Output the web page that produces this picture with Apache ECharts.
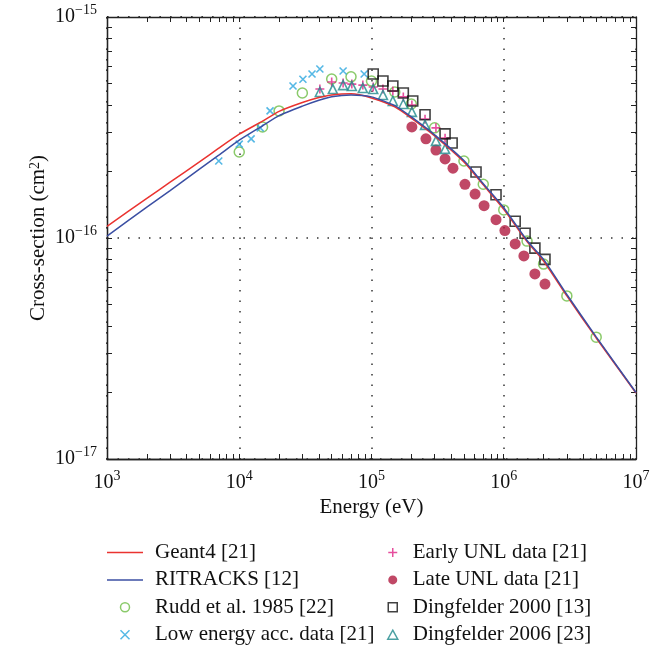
<!DOCTYPE html>
<html>
<head>
<meta charset="utf-8">
<script src="https://cdn.jsdelivr.net/npm/echarts@6/dist/echarts.min.js"></script>
<style>html,body{margin:0;padding:0;background:#fff}#c{width:662px;height:649px}</style>
</head>
<body>
<div id="c"></div>
<script>
// ---- data (energy in eV, cross-section in cm^2) ----
const curveEnergy = [1e3, 2e3, 3e3, 5e3, 7e3, 1e4, 1.5e4, 2e4, 3e4, 4e4, 5e4, 7e4, 1e5, 1.5e5, 2e5, 3e5, 5e5, 7e5, 1e6, 1.5e6, 2e6, 3e6, 5e6, 1e7];
const geant4 = [1.13e-16, 1.51e-16, 1.79e-16, 2.21e-16, 2.55e-16, 2.95e-16, 3.38e-16, 3.74e-16, 4.10e-16, 4.32e-16, 4.44e-16, 4.49e-16, 4.30e-16, 3.92e-16, 3.49e-16, 2.90e-16, 2.21e-16, 1.74e-16, 1.35e-16, 9.65e-17, 7.87e-17, 5.47e-17, 3.53e-17, 1.99e-17];
const ritracks = [1.02e-16, 1.38e-16, 1.64e-16, 2.05e-16, 2.37e-16, 2.77e-16, 3.22e-16, 3.58e-16, 3.95e-16, 4.20e-16, 4.36e-16, 4.44e-16, 4.35e-16, 3.97e-16, 3.53e-16, 2.93e-16, 2.24e-16, 1.76e-16, 1.37e-16, 9.75e-17, 8.0e-17, 5.55e-17, 3.57e-17, 2.0e-17];

const ruddEnergy = [1e4, 1.5e4, 2e4, 3e4, 5e4, 7e4, 1e5, 1.5e5, 2e5, 3e5, 5e5, 7e5, 1e6, 1.5e6, 2e6, 3e6, 5e6];
const ruddSigma = [2.45e-16, 3.18e-16, 3.76e-16, 4.53e-16, 5.24e-16, 5.36e-16, 5.13e-16, 4.58e-16, 4.04e-16, 3.15e-16, 2.23e-16, 1.75e-16, 1.34e-16, 9.68e-17, 7.62e-17, 5.47e-17, 3.56e-17];

const lowEnergy = [7.0e3, 1.0e4, 1.23e4, 1.44e4, 1.71e4, 2.55e4, 3.03e4, 3.55e4, 4.07e4, 6.1e4, 8.8e4];
const lowSigma = [2.23e-16, 2.66e-16, 2.81e-16, 3.15e-16, 3.76e-16, 4.87e-16, 5.23e-16, 5.52e-16, 5.82e-16, 5.70e-16, 5.52e-16];

const earlyEnergy = [4.07e4, 5.0e4, 6.1e4, 7.1e4, 8.6e4, 1.03e5, 1.22e5, 1.45e5, 1.74e5, 2.02e5, 2.54e5, 3.07e5, 3.6e5];
const earlySigma = [4.72e-16, 5.08e-16, 5.03e-16, 4.97e-16, 4.92e-16, 4.82e-16, 4.72e-16, 4.62e-16, 4.35e-16, 4.0e-16, 3.45e-16, 3.15e-16, 2.83e-16];

const lateEnergy = [2.02e5, 2.58e5, 3.07e5, 3.6e5, 4.13e5, 5.09e5, 6.07e5, 7.1e5, 8.74e5, 1.02e6, 1.22e6, 1.42e6, 1.72e6, 2.05e6];
const lateSigma = [3.18e-16, 2.81e-16, 2.50e-16, 2.28e-16, 2.07e-16, 1.75e-16, 1.58e-16, 1.40e-16, 1.21e-16, 1.08e-16, 9.4e-17, 8.3e-17, 6.88e-17, 6.19e-17];

const d2000Energy = [1.03e5, 1.22e5, 1.45e5, 1.74e5, 2.05e5, 2.54e5, 3.6e5, 4.07e5, 6.17e5, 8.74e5, 1.22e6, 1.45e6, 1.72e6, 2.05e6];
const d2000Sigma = [5.52e-16, 5.13e-16, 4.87e-16, 4.53e-16, 4.17e-16, 3.61e-16, 2.96e-16, 2.69e-16, 1.99e-16, 1.57e-16, 1.19e-16, 1.05e-16, 9.0e-17, 8.0e-17];

const d2006Energy = [4.07e4, 5.1e4, 6.1e4, 7.1e4, 8.6e4, 1.03e5, 1.22e5, 1.45e5, 1.74e5, 2.02e5, 2.54e5, 3.07e5, 3.6e5];
const d2006Sigma = [4.58e-16, 4.72e-16, 4.92e-16, 4.87e-16, 4.77e-16, 4.72e-16, 4.44e-16, 4.17e-16, 4.04e-16, 3.72e-16, 3.25e-16, 2.75e-16, 2.53e-16];

const seriesNames = ['Geant4 [21]', 'RITRACKS [12]', 'Rudd et al. 1985 [22]', 'Low energy acc. data [21]',
  'Early UNL data [21]', 'Late UNL data [21]', 'Dingfelder 2000 [13]', 'Dingfelder 2006 [23]'];
const xName = 'Energy (eV)';
const yName = 'Cross-section (cm{sup|2})';
const xRange = [1e3, 1e7];
const yRange = [1e-17, 1e-15];
const minorMult = [2, 3, 4, 5, 6, 7, 8, 9];
const xDecades = [1e3, 1e4, 1e5, 1e6];
const yDecades = [1e-17, 1e-16];

// ---- build ----
const F = 'Liberation Serif';
const pair = (xs, ys) => xs.map((x, i) => [x, ys[i]]);
const minorTicks = (decades) => {
  const out = [];
  decades.forEach(d => { out.push(d); minorMult.forEach(m => out.push(parseFloat((m * d).toPrecision(3)))); });
  return out;
};
const xTicks = minorTicks(xDecades).concat([xRange[1]]);
const yTicks = minorTicks(yDecades).concat([yRange[1]]);

const expLabel = v => {
  const e = Math.round(Math.log10(v));
  return '{b|10}{s|' + (e < 0 ? '\u2212' : '') + Math.abs(e) + '}';
};
const labelRich = {
  b: { fontSize: 20, fontFamily: F, color: '#111', lineHeight: 28, verticalAlign: 'middle' },
  s: { fontSize: 14, fontFamily: F, color: '#111', lineHeight: 14, verticalAlign: 'top' }
};
const frameColor = '#222';
const grid = { left: 107, right: 26, top: 17, bottom: 190, containLabel: false };

function tickAxis(pos, range, ticks) {
  return {
    type: 'log', logBase: 10, min: range[0], max: range[1], position: pos,
    axisLine: { show: true, onZero: false, lineStyle: { color: frameColor, width: 1.3 } },
    axisTick: { show: true, inside: true, length: 5, customValues: ticks, lineStyle: { color: frameColor, width: 1 } },
    axisLabel: { show: false }, splitLine: { show: false }, minorTick: { show: false }
  };
}

const gridLine = { show: true, lineStyle: { type: [1.5, 9], color: '#333', width: 1.5 } };

const colors = ['#ea3330', '#3b4fa3', '#6dbd45', '#2aa6df', '#e02386', '#b01a40', '#111111', '#1f8a8c'];
const legendIcons = [
  'path://M0,0H36V1.5H0Z',
  'path://M0,0H36V1.5H0Z',
  'circle',
  'path://M0,0L10,10M10,0L0,10',
  'path://M5,0L5,10M0,5L10,5',
  'circle',
  'path://M0,0H10V10H0Z',
  'path://M5,0L10,9L0,9Z'
];
const legendData = seriesNames.map((n, i) => ({ name: n, icon: legendIcons[i] }));

const option = {
  animation: false,
  backgroundColor: '#fff',
  grid: grid,
  xAxis: [
    {
      type: 'log', logBase: 10, min: xRange[0], max: xRange[1], position: 'bottom',
      name: xName, nameLocation: 'middle', nameGap: 38, nameMoveOverlap: false,
      nameTextStyle: { fontSize: 21, fontFamily: F, color: '#111' },
      axisLine: { show: true, onZero: false, lineStyle: { color: frameColor, width: 1.3 } },
      axisTick: { show: false },
      axisLabel: { margin: 10, formatter: expLabel, rich: labelRich },
      splitLine: gridLine
    },
    tickAxis('bottom', xRange, xTicks),
    tickAxis('top', xRange, xTicks)
  ],
  yAxis: [
    {
      type: 'log', logBase: 10, min: yRange[0], max: yRange[1], position: 'left',
      name: yName, nameLocation: 'middle', nameGap: 58, nameMoveOverlap: false,
      nameTextStyle: { fontSize: 21, fontFamily: F, color: '#111',
        rich: { sup: { fontSize: 14, fontFamily: F, color: '#111', verticalAlign: 'top', lineHeight: 14 } } },
      axisLine: { show: true, onZero: false, lineStyle: { color: frameColor, width: 1.3 } },
      axisTick: { show: false },
      axisLabel: { margin: 10, formatter: expLabel, rich: labelRich },
      splitLine: gridLine
    },
    tickAxis('left', yRange, yTicks),
    tickAxis('right', yRange, yTicks)
  ],
  legend: [
    {
      data: legendData.slice(0, 4), orient: 'vertical', left: 107, top: 542, padding: 0,
      itemWidth: 36, itemHeight: 9, itemGap: 6.4, selectedMode: false, symbolKeepAspect: true,
      itemStyle: { borderWidth: 1.5 },
      textStyle: { fontSize: 21, fontFamily: F, color: '#111', lineHeight: 21, padding: [0, 0, 0, 7] }
    },
    {
      data: legendData.slice(4), orient: 'vertical', left: 387, top: 542, padding: 0,
      itemWidth: 30, itemHeight: 9, itemGap: 6.4, selectedMode: false, symbolKeepAspect: true,
      itemStyle: { borderWidth: 1.5 },
      textStyle: { fontSize: 21, fontFamily: F, color: '#111', lineHeight: 21 }
    }
  ],
  series: [
    { name: seriesNames[0], type: 'line', data: pair(curveEnergy, geant4), symbol: 'none', smooth: 0.2,
      lineStyle: { color: colors[0], width: 1.5 }, itemStyle: { color: colors[0] } },
    { name: seriesNames[1], type: 'line', data: pair(curveEnergy, ritracks), symbol: 'none', smooth: 0.2,
      lineStyle: { color: colors[1], width: 1.5 }, itemStyle: { color: colors[1] } },
    { name: seriesNames[2], type: 'scatter', data: pair(ruddEnergy, ruddSigma), symbol: 'circle', symbolSize: 10,
      itemStyle: { color: 'rgba(0,0,0,0)', borderColor: colors[2], borderWidth: 1.5 } },
    { name: seriesNames[3], type: 'scatter', data: pair(lowEnergy, lowSigma), symbol: 'path://M0,0L10,10M10,0L0,10', symbolSize: 7,
      itemStyle: { color: colors[3], borderColor: colors[3], borderWidth: 1.6 } },
    { name: seriesNames[4], type: 'scatter', data: pair(earlyEnergy, earlySigma), symbol: 'path://M5,0L5,10M0,5L10,5', symbolSize: 9,
      itemStyle: { color: colors[4], borderColor: colors[4], borderWidth: 1.6 } },
    { name: seriesNames[5], type: 'scatter', data: pair(lateEnergy, lateSigma), symbol: 'circle', symbolSize: 11,
      itemStyle: { color: colors[5] } },
    { name: seriesNames[6], type: 'scatter', data: pair(d2000Energy, d2000Sigma), symbol: 'rect', symbolSize: 10,
      itemStyle: { color: 'rgba(255,255,255,0)', borderColor: colors[6], borderWidth: 1.6 } },
    { name: seriesNames[7], type: 'scatter', data: pair(d2006Energy, d2006Sigma), symbol: 'triangle', symbolSize: [9, 9],
      itemStyle: { color: 'rgba(0,0,0,0)', borderColor: colors[7], borderWidth: 1.6 } }
  ]
};
option.series.forEach(s => { s.xAxisIndex = 0; s.yAxisIndex = 0; s.emphasis = { disabled: true }; });

const chart = echarts.init(document.getElementById('c'), null, { renderer: 'canvas' });
chart.setOption(option);
</script>
</body>
</html>
